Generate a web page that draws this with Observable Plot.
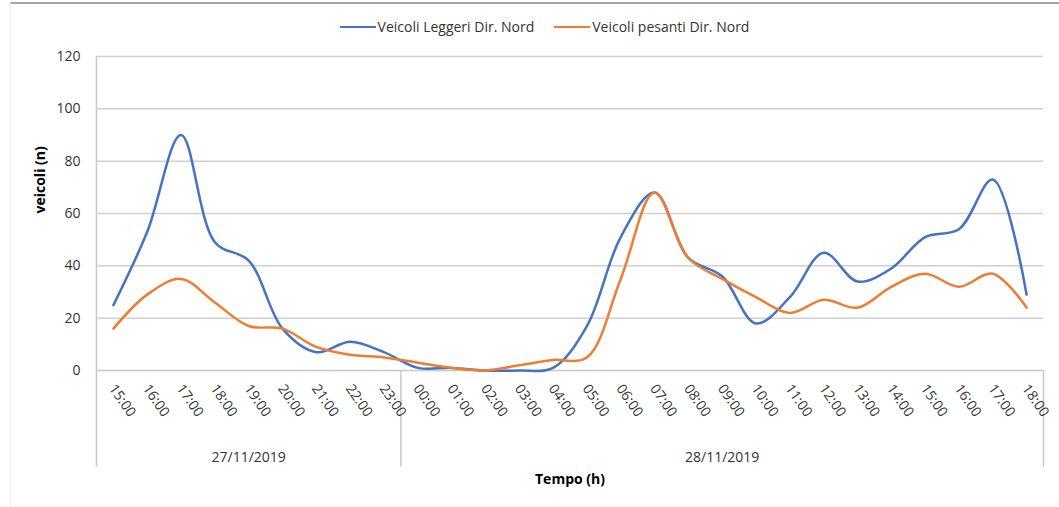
<!DOCTYPE html>
<html>
<head>
<meta charset="utf-8">
<script src="https://cdn.jsdelivr.net/npm/d3@7"></script>
<script src="https://cdn.jsdelivr.net/npm/@observablehq/plot@0.6"></script>
<style>
  body { margin: 0; background: #fff; }
  #wrap { position: relative; width: 1059px; height: 507px; overflow: hidden; font-family: "Open Sans", sans-serif; }
  #topline { position: absolute; left: 10px; top: 2px; width: 1049px; height: 0; border-top: 2px solid #a6a6a6; }
  #leftline { position: absolute; left: 10px; top: 3px; width: 0; height: 504px; border-left: 1px solid #eeeeee; }
  #legend { height: 45px; display: flex; justify-content: center; align-items: center; padding-top: 8px; padding-left: 30px; box-sizing: border-box; font-size: 14px; color: #333; }
  .item { display: flex; align-items: center; margin: 0 10px; }
  .sw { width: 36px; height: 0; border-top: 2.5px solid; margin-right: 2px; }
  #chart svg { display: block; }
</style>
</head>
<body>
<div id="wrap">
  <div id="topline"></div>
  <div id="leftline"></div>
  <div id="legend"></div>
  <div id="chart"></div>
</div>
<script>
const hours = ["15:00","16:00","17:00","18:00","19:00","20:00","21:00","22:00","23:00",
  "00:00","01:00","02:00","03:00","04:00","05:00","06:00","07:00","08:00","09:00","10:00",
  "11:00","12:00","13:00","14:00","15:00","16:00","17:00","18:00"];
const dates = ["27/11/2019", "28/11/2019"];
const dateSpans = [[0, 8], [9, 27]];
const seriesNames = ["Veicoli Leggeri Dir. Nord", "Veicoli pesanti Dir. Nord"];
const leggeri = [25, 53, 90, 49, 42, 16, 7, 11, 7, 1, 1, 0, 0, 1, 17, 51, 68, 43, 36, 18, 28, 45, 34, 39, 51, 54, 73, 29];
const pesanti = [16, 29, 35, 26, 17, 16, 9, 6, 5, 3, 1, 0, 2, 4, 5, 35, 68, 43, 35, 28, 22, 27, 24, 32, 37, 32, 37, 24];
const colors = ["#4472C4", "#ED7D31"];
const yTicks = [0, 20, 40, 60, 80, 100, 120];

// legend
const legend = document.getElementById("legend");
seriesNames.forEach((n, i) => {
  const it = document.createElement("div");
  it.className = "item";
  it.innerHTML = `<span class="sw" style="border-color:${colors[i]}"></span><span>${n}</span>`;
  legend.appendChild(it);
});

const idx = hours.map((_, i) => i);
const data = [];
idx.forEach(i => {
  data.push({i, v: leggeri[i], s: seriesNames[0]});
  data.push({i, v: pesanti[i], s: seriesNames[1]});
});

const W = 1059, H = 462;
const mL = 96, mR = 16, mT = 11, mB = 137;
const step = (W - mL - mR) / hours.length;

const dateData = dates.map((d, k) => ({d, mid: (dateSpans[k][0] + dateSpans[k][1]) / 2}));

const plot = Plot.plot({
  width: W,
  height: H,
  marginLeft: mL,
  marginRight: mR,
  marginTop: mT,
  marginBottom: mB,
  style: {fontFamily: "Open Sans, sans-serif", fontSize: "14px", color: "#333", background: "#fff"},
  x: {type: "point", domain: idx, padding: 0.5, round: false, axis: null},
  y: {domain: [0, 120], axis: null},
  color: {domain: seriesNames, range: colors},
  marks: [
    Plot.ruleY(yTicks.filter(d => d > 0), {stroke: "#d0d0d0", strokeWidth: 1.5}),
    Plot.ruleY([0], {stroke: "#c8c8c8", strokeWidth: 1.5}),
    Plot.text(yTicks, {y: d => d, text: d => String(d), frameAnchor: "left", dx: -16, textAnchor: "end", fill: "#333", fontSize: 14}),
    Plot.ruleX([0], {x: d => d, y1: 120, y2: -37, dx: -step / 2, stroke: "#c8c8c8", strokeWidth: 1.5}),
    Plot.ruleX([9], {x: d => d, y1: 0, y2: -37, dx: -step / 2, stroke: "#c8c8c8", strokeWidth: 1.5}),
    Plot.ruleX([hours.length - 1], {x: d => d, y1: 0, y2: -37, dx: step / 2, stroke: "#c8c8c8", strokeWidth: 1.5}),
    Plot.text(idx, {x: d => d, text: d => hours[d], frameAnchor: "bottom", dy: 18, dx: -5, rotate: 55, textAnchor: "start", fill: "#333", fontSize: 14}),
    Plot.text(dateData, {x: "mid", text: "d", frameAnchor: "bottom", dy: 91, fill: "#333", fontSize: 14}),
    Plot.text(["Tempo (h)"], {frameAnchor: "bottom", dy: 113, fontWeight: "bold", fill: "#000", fontSize: 14}),
    Plot.text(["veicoli (n)"], {frameAnchor: "left", dx: -56, rotate: -90, fontWeight: "bold", fill: "#000", fontSize: 14}),
    Plot.line(data, {x: "i", y: "v", z: "s", stroke: "s", strokeWidth: 2.5, curve: "catmull-rom"})
  ]
});
document.getElementById("chart").appendChild(plot);
</script>
</body>
</html>
